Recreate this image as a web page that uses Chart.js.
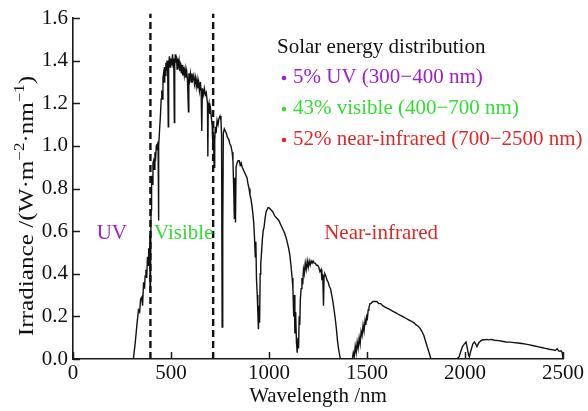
<!DOCTYPE html>
<html><head><meta charset="utf-8">
<script src="https://cdn.jsdelivr.net/npm/chart.js@4"></script>
<style>html,body{margin:0;padding:0;background:#fff;}canvas{display:block;}</style>
</head><body>
<canvas id="c" width="588" height="411"></canvas>
<script>
// ---- data ----
const wavelengths = [300,308,318,326,334,340,345,351,355,360,365,368,372,376,380,383,386,389,392,393,395,396,398,400,402,405,408,411,414,418,422,425,428,431,434,436,438,442,446,450,453,456,459,462,465,468,471,474,477,480,483,486,488,492,495,498,502,505,508,511,514,517,519,522,525,528,531,534,538,541,545,549,553,557,560,564,568,572,576,580,584,589,591,595,599,603,607,611,616,620,625,629,633,637,641,645,650,654,657,660,665,670,675,680,686,688,690,694,698,702,706,710,714,717,720,723,726,730,735,740,745,750,755,758,761,764,767,772,777,782,788,795,800,806,812,816,820,823,826,829,832,837,842,848,853,858,863,868,873,878,883,888,893,898,903,908,913,918,922,926,930,933,936,940,943,946,949,952,955,958,962,966,970,975,980,985,990,995,1000,1010,1020,1030,1040,1050,1060,1070,1080,1090,1100,1106,1112,1118,1122,1126,1129,1132,1136,1140,1144,1148,1151,1154,1157,1160,1164,1168,1172,1176,1180,1185,1190,1195,1200,1205,1210,1215,1220,1225,1230,1236,1242,1248,1254,1260,1266,1270,1274,1278,1281,1285,1290,1296,1302,1308,1314,1320,1326,1332,1338,1344,1350,1356,1362,1366,1425,1430,1435,1440,1445,1450,1455,1460,1465,1470,1475,1480,1485,1490,1494,1498,1502,1506,1510,1515,1520,1530,1540,1550,1560,1570,1580,1590,1600,1610,1620,1630,1640,1650,1660,1670,1680,1690,1700,1710,1720,1730,1740,1750,1760,1770,1780,1790,1800,1810,1820,1826,1958,1970,1980,1988,1996,2005,2012,2018,2022,2030,2040,2048,2055,2061,2070,2080,2090,2100,2110,2120,2133,2150,2170,2190,2210,2230,2250,2270,2290,2310,2330,2350,2370,2390,2410,2430,2450,2460,2470,2480,2490,2496,2500];
const irradiance = [0,0,0.08,0.16,0.23,0.22,0.28,0.29,0.25,0.36,0.33,0.39,0.42,0.38,0.48,0.44,0.52,0.47,0.58,0.32,0.55,0.36,0.70,0.78,0.86,0.82,0.92,0.93,0.89,0.97,0.95,1.0,1.01,0.98,1.02,0.65,1.0,1.08,1.14,1.22,1.26,1.22,1.32,1.34,1.30,1.37,1.33,1.39,1.35,1.40,1.36,1.09,1.38,1.42,1.37,1.41,1.38,1.40,1.43,1.37,1.41,1.11,1.38,1.43,1.39,1.42,1.36,1.41,1.38,1.40,1.35,1.39,1.34,1.38,1.33,1.37,1.33,1.36,1.32,1.35,1.31,1.16,1.34,1.31,1.34,1.30,1.34,1.31,1.33,1.29,1.32,1.28,1.31,1.27,1.30,1.26,1.30,1.25,1.07,1.27,1.24,1.27,1.24,1.25,1.20,0.95,1.18,1.20,1.15,1.17,1.13,1.10,0.98,1.05,0.90,1.02,1.09,1.06,1.12,1.10,1.13,1.14,1.12,1.05,0.15,0.60,1.06,1.08,1.07,1.06,1.04,1.03,1.01,1.0,0.97,0.93,0.80,0.66,0.85,0.64,0.90,0.92,0.93,0.93,0.91,0.92,0.90,0.89,0.88,0.87,0.86,0.85,0.82,0.80,0.77,0.75,0.72,0.68,0.64,0.57,0.48,0.55,0.38,0.30,0.22,0.14,0.25,0.17,0.40,0.45,0.50,0.56,0.60,0.62,0.66,0.69,0.70,0.71,0.71,0.70,0.69,0.67,0.66,0.65,0.63,0.61,0.59,0.56,0.52,0.49,0.44,0.38,0.33,0.20,0.30,0.12,0.22,0.08,0.03,0.10,0.05,0.20,0.16,0.28,0.33,0.38,0.35,0.42,0.40,0.45,0.42,0.46,0.43,0.46,0.44,0.46,0.45,0.46,0.45,0.45,0.44,0.44,0.43,0.41,0.42,0.37,0.40,0.25,0.39,0.40,0.39,0.37,0.36,0.34,0.33,0.30,0.27,0.23,0.19,0.14,0.08,0.04,0.01,0,0,0.03,0.01,0.06,0.03,0.08,0.05,0.10,0.07,0.13,0.11,0.16,0.13,0.18,0.16,0.20,0.19,0.23,0.24,0.26,0.26,0.27,0.27,0.27,0.26,0.26,0.25,0.245,0.24,0.235,0.23,0.225,0.22,0.215,0.21,0.205,0.20,0.195,0.19,0.185,0.18,0.175,0.17,0.16,0.155,0.145,0.13,0.11,0.08,0.05,0.02,0,0,0.01,0.04,0.06,0.07,0.08,0.05,0.02,0.01,0.04,0.07,0.08,0.07,0.058,0.075,0.085,0.09,0.09,0.092,0.09,0.092,0.088,0.086,0.083,0.08,0.079,0.077,0.075,0.073,0.07,0.066,0.062,0.058,0.054,0.05,0.046,0.043,0.04,0.048,0.036,0.038,0.03,0];
const xTickValues = [0,500,1000,1500,2000,2500];
const yTickValues = [0,0.2,0.4,0.6,0.8,1.0,1.2,1.4,1.6];
const boundaryWavelengths = [395, 715];
const xTitle = 'Wavelength /nm';
const yTitleParts = ['Irradiance /(W\u00b7m', '\u22122', '\u00b7nm', '\u22121', ')'];
const legendTitle = 'Solar energy distribution';
const legendItems = ['5% UV (300\u2212400 nm)', '43% visible (400\u2212700 nm)', '52% near-infrared (700\u22122500 nm)'];
const regionNames = ['UV', 'Visible', 'Near-infrared'];

// ---- styling / placement ----
const FONT = "'Liberation Serif','Times New Roman',serif";
const regionColors = ['#9a22cc', '#33dd33', '#e02828'];
const regionAnchors = [{x:198, y:0.59}, {x:565, y:0.59}, {x:1572, y:0.59}];

const spectrum = wavelengths.map((w, i) => ({x: w, y: irradiance[i]}));
const boundaryData = boundaryWavelengths.map(w => [{x: w, y: 0}, {x: w, y: 1.62}]);

const annotate = {
  id: 'annotate',
  afterDraw(chart) {
    const {ctx, scales: {x, y}} = chart;
    ctx.save();
    // inward tick marks
    ctx.strokeStyle = '#1a1a1a';
    ctx.lineWidth = 1.5;
    xTickValues.forEach(v => {
      const px = Math.round(x.getPixelForValue(v)) + 0.5;
      ctx.beginPath(); ctx.moveTo(px, y.bottom); ctx.lineTo(px, y.bottom - 7); ctx.stroke();
    });
    yTickValues.forEach(v => {
      const py = Math.round(y.getPixelForValue(v)) + 0.5;
      ctx.beginPath(); ctx.moveTo(x.left, py); ctx.lineTo(x.left + 7, py); ctx.stroke();
    });
    // y axis title (rotated, with superscripts)
    ctx.save();
    ctx.translate(27, 206);
    ctx.rotate(-Math.PI / 2);
    ctx.scale(1.2, 1);
    ctx.fillStyle = '#111';
    ctx.textBaseline = 'middle';
    ctx.textAlign = 'left';
    const big = '21px ' + FONT, small = '14px ' + FONT;
    let total = 0;
    yTitleParts.forEach((p, i) => { ctx.font = (i % 2 === 1) ? small : big; total += ctx.measureText(p).width; });
    let cx = -total / 2;
    yTitleParts.forEach((p, i) => {
      const sup = i % 2 === 1;
      ctx.font = sup ? small : big;
      ctx.fillText(p, cx, sup ? -7 : 0);
      cx += ctx.measureText(p).width;
    });
    ctx.restore();
    // region labels
    ctx.font = '21px ' + FONT;
    ctx.textAlign = 'center';
    ctx.textBaseline = 'middle';
    regionNames.forEach((t, i) => {
      ctx.fillStyle = regionColors[i];
      ctx.fillText(t, x.getPixelForValue(regionAnchors[i].x), y.getPixelForValue(regionAnchors[i].y));
    });
    // legend block
    ctx.textAlign = 'left';
    ctx.fillStyle = '#111';
    ctx.fillText(legendTitle, 277, 47);
    legendItems.forEach((t, i) => {
      const yy = 77 + i * 31;
      ctx.fillStyle = regionColors[i];
      ctx.beginPath(); ctx.arc(284, yy + 1, 2.3, 0, Math.PI * 2); ctx.fill();
      ctx.fillText(t, 293, yy);
    });
    ctx.restore();
  }
};

new Chart(document.getElementById('c'), {
  type: 'line',
  data: {
    datasets: [
      {data: spectrum, borderColor: '#111', borderWidth: 1.4, pointRadius: 0, tension: 0, fill: false},
      ...boundaryData.map(d => ({data: d, borderColor: '#111', borderWidth: 2.4, borderDash: [7, 4], pointRadius: 0, clip: false}))
    ]
  },
  options: {
    responsive: false,
    animation: false,
    layout: {padding: {top: 18, right: 25, left: 0, bottom: 0}},
    plugins: {legend: {display: false}, tooltip: {enabled: false}},
    scales: {
      x: {
        type: 'linear', min: 0, max: 2500,
        afterFit(s) { s.height = 52; },
        grid: {display: false, drawTicks: false},
        border: {display: true, color: '#1a1a1a', width: 1.6},
        ticks: {stepSize: 500, padding: 2, color: '#111', font: {family: FONT, size: 21}, maxRotation: 0, autoSkip: false, callback: v => String(v)},
        title: {display: true, text: xTitle, color: '#111', font: {family: FONT, size: 21}, padding: {top: 0, bottom: 2}}
      },
      y: {
        min: 0, max: 1.6,
        afterFit(s) { s.width = 73; },
        grid: {display: false, drawTicks: false},
        border: {display: true, color: '#1a1a1a', width: 1.6},
        ticks: {stepSize: 0.2, padding: 5, color: '#111', font: {family: FONT, size: 21}, callback: v => Number(v).toFixed(1)},
        title: {display: false}
      }
    }
  },
  plugins: [annotate]
});
</script>
</body></html>
